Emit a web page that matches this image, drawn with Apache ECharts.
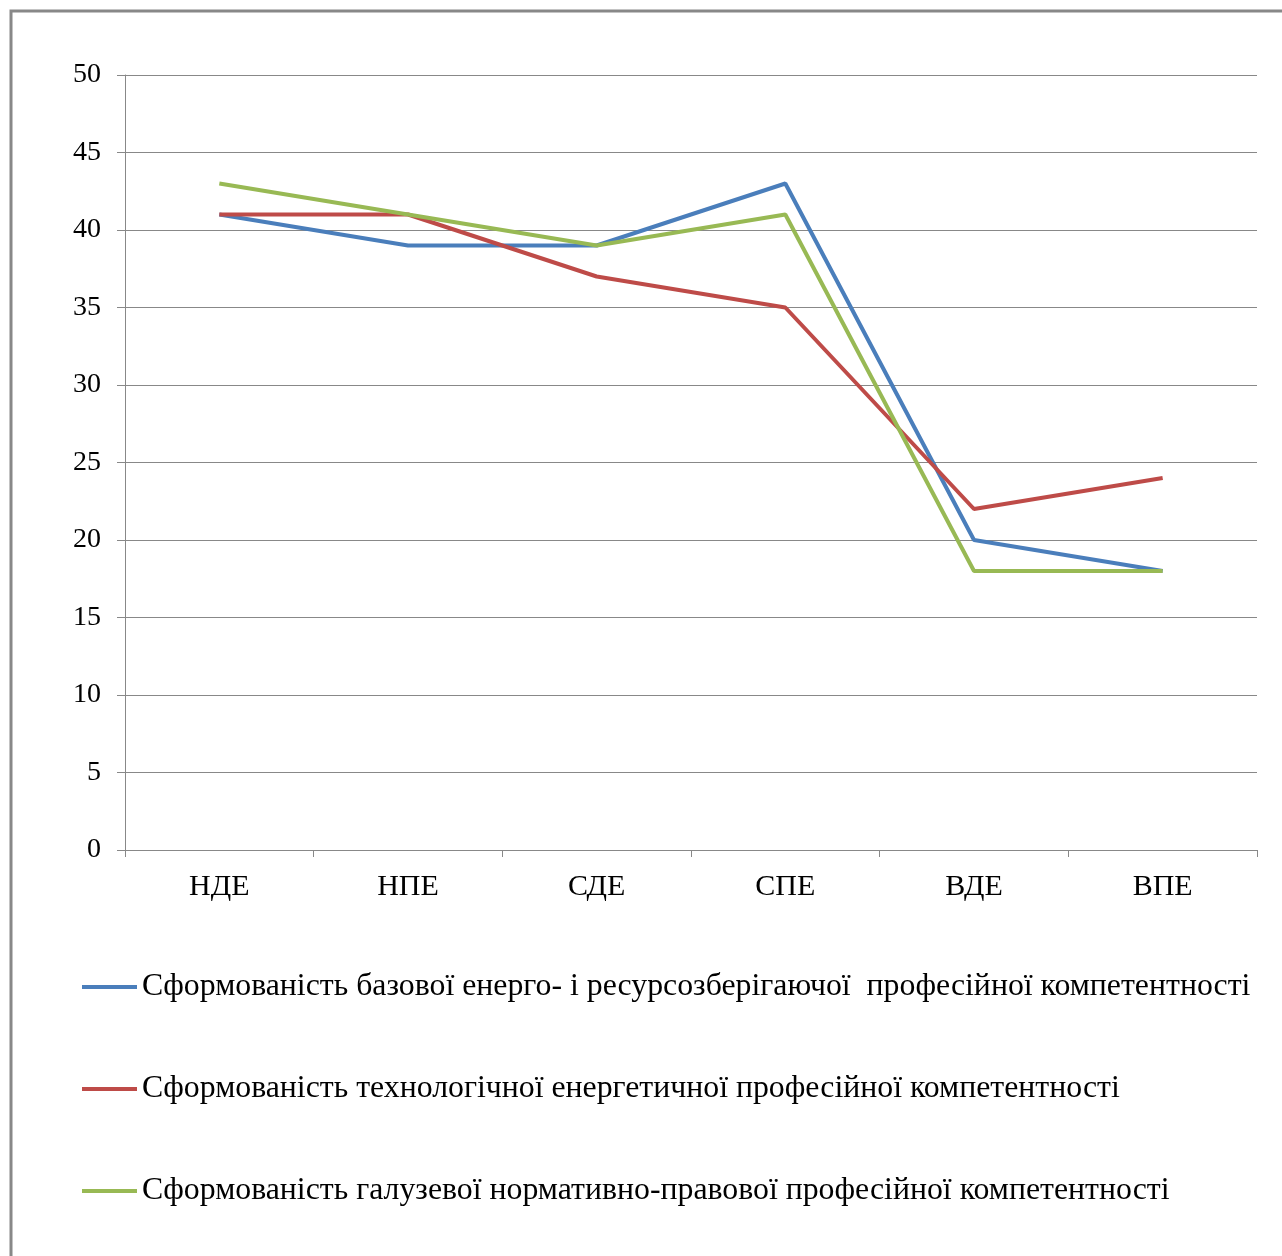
<!DOCTYPE html>
<html>
<head>
<meta charset="utf-8">
<script src="https://cdn.jsdelivr.net/npm/echarts@6/dist/echarts.min.js"></script>
<style>
  html, body { margin: 0; padding: 0; background: #ffffff; }
  #chart { width: 1282px; height: 1256px; }
</style>
</head>
<body>
<div id="chart"></div>
<script>
// Levels of competence formation
const categories = ['НДЕ', 'НПЕ', 'СДЕ', 'СПЕ', 'ВДЕ', 'ВПЕ'];
const yTicks = [0, 5, 10, 15, 20, 25, 30, 35, 40, 45, 50];

const seriesNames = [
  'Сформованість базової енерго- і ресурсозберігаючої  професійної компетентності',
  'Сформованість технологічної енергетичної професійної компетентності',
  'Сформованість галузевої нормативно-правової професійної компетентності'
];
const basicValues = [41, 39, 39, 43, 20, 18];
const technologicalValues = [41, 41, 37, 35, 22, 24];
const regulatoryValues = [43, 41, 39, 41, 18, 18];

const seriesColors = ['#4a7ebb', '#be4b48', '#98b954'];
const seriesData = [basicValues, technologicalValues, regulatoryValues];

const font = '"Liberation Serif", "Times New Roman", serif';
const axisGray = '#888888';

const chart = echarts.init(document.getElementById('chart'), null, { renderer: 'canvas' });

chart.setOption({
  backgroundColor: '#ffffff',
  animation: false,
  graphic: [{
    type: 'rect',
    shape: { x: 11, y: 11, width: 1400, height: 1400 },
    style: { fill: 'none', stroke: axisGray, lineWidth: 3 },
    silent: true
  }],
  grid: { left: 125, right: 25, top: 75, bottom: 406, containLabel: false },
  legend: {
    orient: 'vertical',
    left: 77,
    top: 966,
    itemGap: 70,
    itemWidth: 55,
    itemHeight: 4,
    icon: 'rect',
    textStyle: { fontFamily: font, fontSize: 31.8, lineHeight: 32, color: '#000000' },
    data: seriesNames.map((n, i) => ({ name: n, itemStyle: { color: seriesColors[i] } }))
  },
  xAxis: {
    type: 'category',
    data: categories,
    boundaryGap: true,
    axisLine: { show: true, lineStyle: { color: axisGray, width: 1 } },
    axisTick: { show: true, length: 7, interval: 0, lineStyle: { color: axisGray } },
    axisLabel: { fontFamily: font, fontSize: 30, color: '#000000', margin: 22, interval: 0 },
    splitLine: { show: false }
  },
  yAxis: {
    type: 'value',
    min: yTicks[0],
    max: yTicks[yTicks.length - 1],
    interval: 5,
    axisLine: { show: true, lineStyle: { color: axisGray, width: 1 } },
    axisTick: { show: true, length: 8, lineStyle: { color: axisGray } },
    axisLabel: { fontFamily: font, fontSize: 28, color: '#000000', margin: 24 },
    splitLine: { show: true, lineStyle: { color: axisGray, width: 1 } }
  },
  series: seriesNames.map((name, i) => ({
    name: name,
    type: 'line',
    data: seriesData[i],
    symbol: 'none',
    showSymbol: false,
    lineStyle: { color: seriesColors[i], width: 4 },
    itemStyle: { color: seriesColors[i] }
  }))
});
</script>
</body>
</html>
